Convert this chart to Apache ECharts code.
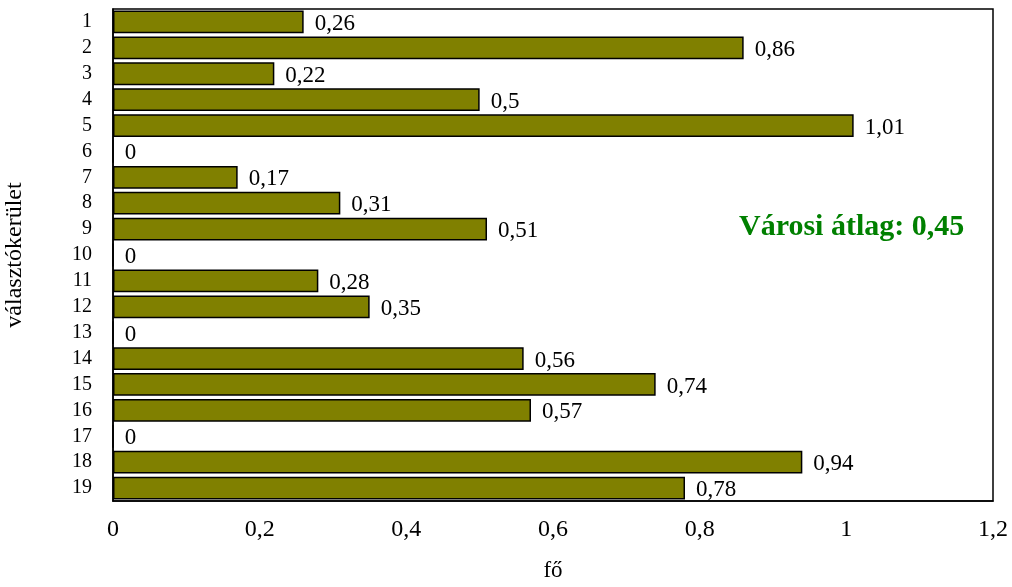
<!DOCTYPE html>
<html>
<head>
<meta charset="utf-8">
<script src="https://cdn.jsdelivr.net/npm/echarts@6/dist/echarts.min.js"></script>
<style>
  html, body { margin: 0; padding: 0; background: #fff; }
  #chart { width: 1012px; height: 587px; }
</style>
</head>
<body>
<div id="chart"></div>
<script>
// districts (top to bottom) and average value per district
const districts = ['1','2','3','4','5','6','7','8','9','10','11','12','13','14','15','16','17','18','19'];
const values = [0.26, 0.86, 0.22, 0.5, 1.01, 0, 0.17, 0.31, 0.51, 0, 0.28, 0.35, 0, 0.56, 0.74, 0.57, 0, 0.94, 0.78];
const xTicks = [0, 0.2, 0.4, 0.6, 0.8, 1, 1.2];
const avgLabel = 'Városi átlag: 0,45';

const font = '"Liberation Serif", "Times New Roman", serif';
const fmt = v => String(v).replace('.', ',');

const chart = echarts.init(document.getElementById('chart'), null, { renderer: 'canvas' });
chart.setOption({
  animation: false,
  textStyle: { fontFamily: font },
  grid: {
    left: 113, right: 19, top: 9, bottom: 86,
    outerBoundsMode: 'none',
    containLabel: false,
    show: true, borderColor: '#000', borderWidth: 1.5, backgroundColor: 'transparent'
  },
  xAxis: {
    type: 'value',
    min: xTicks[0],
    max: xTicks[xTicks.length - 1],
    interval: 0.2,
    name: 'fő',
    nameLocation: 'middle',
    nameGap: 58,
    nameTextStyle: { fontFamily: font, fontSize: 23, color: '#000' },
    axisLine: { show: true, lineStyle: { color: '#000', width: 1.5 } },
    axisTick: { show: false },
    splitLine: { show: false },
    axisLabel: { margin: 17, fontFamily: font, fontSize: 24, color: '#000', formatter: v => fmt(+v.toFixed(1)) }
  },
  yAxis: {
    type: 'category',
    inverse: true,
    data: districts,
    name: 'választókerület',
    nameLocation: 'middle',
    nameGap: 86,
    nameRotate: 90,
    nameTextStyle: { fontFamily: font, fontSize: 24, color: '#000' },
    axisLine: { show: true, lineStyle: { color: '#000', width: 1.5 } },
    axisTick: { show: false },
    axisLabel: { interval: 0, margin: 21, fontFamily: font, fontSize: 20, color: '#000' }
  },
  series: [{
    type: 'bar',
    data: values,
    barCategoryGap: '12%',
    itemStyle: { color: '#808000', borderColor: '#000', borderWidth: 1.5 },
    label: {
      show: true,
      position: 'right',
      distance: 11,
      offset: [0, 2],
      fontFamily: font,
      fontSize: 23,
      color: '#000',
      formatter: p => fmt(p.value)
    }
  }],
  graphic: [{
    type: 'text',
    left: 739,
    top: 212,
    style: {
      text: avgLabel,
      fontFamily: font,
      fontSize: 30,
      fontWeight: 'bold',
      fill: '#008000'
    }
  }]
});
</script>
</body>
</html>
